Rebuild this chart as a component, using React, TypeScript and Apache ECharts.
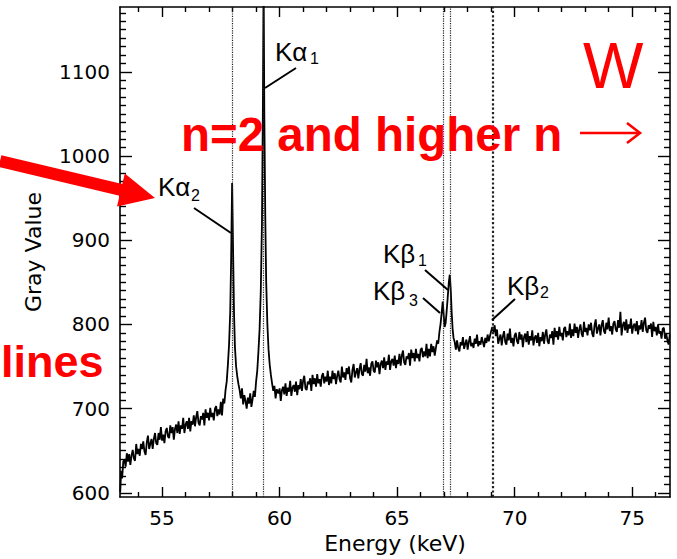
import React, { useEffect, useRef } from "react";
import * as echarts from "echarts";

// ---- Axis ticks ----
const X_MIN = 53.21;
const X_MAX = 76.61;
const Y_MIN = 595;
const Y_MAX = 1177;
const X_MAJOR = [55, 60, 65, 70, 75];
const X_MINOR = [54, 56, 57, 58, 59, 61, 62, 63, 64, 66, 67, 68, 69, 71, 72, 73, 74, 76];
const Y_MAJOR = [600, 700, 800, 900, 1000, 1100];
const Y_MINOR = [
  610, 620, 630, 640, 650, 660, 670, 680, 690,
  710, 720, 730, 740, 750, 760, 770, 780, 790,
  810, 820, 830, 840, 850, 860, 870, 880, 890,
  910, 920, 930, 940, 950, 960, 970, 980, 990,
  1010, 1020, 1030, 1040, 1050, 1060, 1070, 1080, 1090,
  1110, 1120, 1130, 1140, 1150, 1160, 1170,
];

// ---- Reference line energies (keV): Kα2, Kα1, Kβ3, Kβ1, Kβ2 ----
const LINE_ENERGIES = [57.98, 59.318, 66.95, 67.244, 69.07];

// ---- Spectrum segments [energy keV, gray value] ----
const lowEnergySlope = [
  [53.22, 601], [53.26, 626], [53.3, 617], [53.35, 637],
  [53.4, 639], [53.45, 631], [53.5, 647], [53.55, 637], [53.6, 646], [53.65, 633],
  [53.7, 644], [53.75, 651], [53.8, 641], [53.85, 638], [53.9, 658], [53.95, 646],
  [54.0, 652], [54.05, 644], [54.1, 658], [54.15, 652], [54.2, 661], [54.25, 649],
  [54.3, 645], [54.35, 660], [54.4, 668], [54.45, 652], [54.5, 658], [54.55, 664],
  [54.6, 652], [54.65, 664], [54.7, 671], [54.75, 659], [54.8, 657], [54.85, 671],
  [54.9, 663], [54.95, 678], [55.0, 662], [55.05, 669], [55.1, 659], [55.15, 673],
  [55.2, 677], [55.25, 667], [55.3, 665], [55.35, 680], [55.4, 671], [55.45, 678],
  [55.5, 663], [55.55, 676], [55.6, 681], [55.65, 671], [55.7, 685], [55.75, 670],
  [55.8, 680], [55.85, 676], [55.9, 689], [55.95, 671], [56.0, 681], [56.05, 685],
  [56.1, 676], [56.15, 689], [56.2, 673], [56.25, 685], [56.3, 681], [56.35, 692],
  [56.4, 679], [56.45, 690], [56.5, 697], [56.55, 683], [56.6, 680], [56.65, 691],
  [56.7, 687], [56.75, 695], [56.8, 680], [56.85, 699], [56.9, 689], [56.95, 695],
  [57.0, 686], [57.05, 701], [57.1, 690], [57.15, 695], [57.2, 686], [57.25, 700],
  [57.3, 703], [57.35, 691], [57.4, 699], [57.45, 693], [57.5, 708], [57.55, 692],
  [57.6, 712],
];

const kAlphaRegion = [
  [57.65, 706], [57.7, 722], [57.75, 732], [57.8, 752], [57.85, 776], [57.9, 815],
  [57.94, 880], [57.98, 968], [58.02, 890], [58.06, 815], [58.1, 773], [58.15, 750],
  [58.2, 738], [58.25, 729], [58.3, 722], [58.35, 712], [58.4, 724], [58.45, 705],
  [58.5, 716], [58.55, 709], [58.6, 700], [58.65, 713], [58.7, 706], [58.75, 718],
  [58.8, 702], [58.85, 711], [58.9, 721], [58.95, 714], [59.0, 732], [59.05, 745],
  [59.1, 768], [59.15, 795], [59.2, 840], [59.25, 920], [59.29, 1060], [59.32, 1210],
  [59.35, 1050], [59.39, 930], [59.43, 850], [59.48, 800], [59.53, 770], [59.58, 752],
  [59.63, 740], [59.68, 730], [59.73, 721], [59.78, 727], [59.83, 712], [59.88, 723],
];

const midPlateau = [
  [59.95, 718], [60.0, 724], [60.05, 709], [60.1, 722], [60.15, 726], [60.2, 717],
  [60.25, 730], [60.3, 715], [60.35, 725], [60.4, 720], [60.45, 733], [60.5, 715],
  [60.55, 725], [60.6, 728], [60.65, 720], [60.7, 732], [60.75, 716], [60.8, 728],
  [60.85, 723], [60.9, 735], [60.95, 721], [61.0, 733], [61.05, 739], [61.1, 724],
  [61.15, 722], [61.2, 732], [61.25, 729], [61.3, 736], [61.35, 721], [61.4, 740],
  [61.45, 729], [61.5, 736], [61.55, 726], [61.6, 741], [61.65, 730], [61.7, 735],
  [61.75, 726], [61.8, 739], [61.85, 742], [61.9, 730], [61.95, 738], [62.0, 732],
  [62.05, 745], [62.1, 728], [62.15, 738], [62.2, 730], [62.25, 745], [62.3, 735],
  [62.35, 742], [62.4, 729], [62.45, 739], [62.5, 745], [62.55, 735], [62.6, 731],
  [62.65, 750], [62.7, 737], [62.75, 743], [62.8, 734], [62.85, 748], [62.9, 741],
  [62.95, 750], [63.0, 736], [63.05, 731], [63.1, 746], [63.15, 753], [63.2, 737],
  [63.25, 743], [63.3, 748], [63.35, 736], [63.4, 747], [63.45, 754], [63.5, 741],
  [63.55, 739], [63.6, 752], [63.65, 744], [63.7, 759], [63.75, 742], [63.8, 749],
  [63.85, 739], [63.9, 753], [63.95, 756], [64.0, 745], [64.05, 743], [64.1, 757],
  [64.15, 749], [64.2, 755], [64.25, 741], [64.3, 753], [64.35, 757], [64.4, 748],
  [64.45, 761], [64.5, 746], [64.55, 756], [64.6, 752], [64.65, 764], [64.7, 746],
  [64.75, 756], [64.8, 759], [64.85, 751], [64.9, 763], [64.95, 748], [65.0, 758],
  [65.05, 753], [65.1, 765], [65.15, 751], [65.2, 763], [65.25, 769], [65.3, 755],
  [65.35, 752], [65.4, 762], [65.45, 759], [65.5, 766], [65.55, 751], [65.6, 770],
  [65.65, 760], [65.7, 766], [65.75, 756], [65.8, 771], [65.85, 760], [65.9, 765],
  [65.95, 756], [66.0, 770], [66.05, 772], [66.1, 761], [66.15, 768], [66.2, 762],
  [66.25, 777], [66.3, 760], [66.35, 771], [66.4, 762], [66.45, 777], [66.5, 767],
  [66.55, 774], [66.6, 763], [66.65, 772],
];

const kBetaRegion = [
  [66.7, 781], [66.75, 777], [66.8, 791], [66.85, 801], [66.9, 815], [66.94, 827],
  [66.98, 812], [67.02, 797], [67.06, 801], [67.1, 813], [67.15, 831], [67.2, 850],
  [67.24, 859], [67.28, 842], [67.32, 815], [67.36, 795], [67.4, 784], [67.45, 779],
  [67.5, 770], [67.55, 781], [67.6, 772], [67.65, 768], [67.7, 779], [67.75, 775],
  [67.8, 785], [67.85, 771], [67.9, 777], [67.95, 782], [68.0, 770], [68.05, 779],
  [68.1, 786], [68.15, 774], [68.2, 778], [68.25, 772], [68.3, 783], [68.35, 777],
  [68.4, 788], [68.45, 774], [68.5, 780], [68.55, 776], [68.6, 785], [68.65, 779],
  [68.7, 773], [68.75, 784], [68.8, 778], [68.85, 788], [68.9, 780], [68.95, 786],
  [69.0, 792], [69.05, 797], [69.1, 791], [69.15, 799], [69.2, 786],
];

const highPlateau = [
  [69.25, 794], [69.3, 777], [69.35, 783], [69.4, 788], [69.45, 775], [69.5, 786],
  [69.55, 792], [69.6, 779], [69.65, 776], [69.7, 789], [69.75, 781], [69.8, 795],
  [69.85, 778], [69.9, 784], [69.95, 774], [70.0, 787], [70.05, 790], [70.1, 780],
  [70.15, 777], [70.2, 791], [70.25, 782], [70.3, 788], [70.35, 773], [70.4, 785],
  [70.45, 789], [70.5, 779], [70.55, 792], [70.6, 776], [70.65, 786], [70.7, 781],
  [70.75, 793], [70.8, 775], [70.85, 784], [70.9, 787], [70.95, 778], [71.0, 790],
  [71.05, 774], [71.1, 785], [71.15, 780], [71.2, 791], [71.25, 777], [71.3, 788],
  [71.35, 794], [71.4, 780], [71.45, 777], [71.5, 788], [71.55, 784], [71.6, 792],
  [71.65, 776], [71.7, 796], [71.75, 785], [71.8, 792], [71.85, 782], [71.9, 797],
  [71.95, 786], [72.0, 790], [72.05, 781], [72.1, 795], [72.15, 797], [72.2, 785],
  [72.25, 792], [72.3, 787], [72.35, 801], [72.4, 784], [72.45, 794], [72.5, 786],
  [72.55, 801], [72.6, 790], [72.65, 797], [72.7, 784], [72.75, 794], [72.8, 800],
  [72.85, 789], [72.9, 785], [72.95, 803], [73.0, 791], [73.05, 796], [73.1, 787],
  [73.15, 800], [73.2, 793], [73.25, 802], [73.3, 789], [73.35, 785], [73.4, 799],
  [73.45, 806], [73.5, 789], [73.55, 795], [73.6, 800], [73.65, 787], [73.7, 799],
  [73.75, 805], [73.8, 792], [73.85, 789], [73.9, 802], [73.95, 794], [74.0, 808],
  [74.05, 792], [74.1, 798], [74.15, 788], [74.2, 801], [74.25, 804], [74.3, 794],
  [74.35, 791], [74.4, 805], [74.45, 796], [74.5, 815], [74.55, 787], [74.6, 799],
  [74.65, 803], [74.7, 793], [74.75, 806], [74.8, 790], [74.85, 800], [74.9, 795],
  [74.95, 807], [75.0, 789], [75.05, 798], [75.1, 801], [75.15, 792], [75.2, 804],
  [75.25, 788], [75.3, 799], [75.35, 794], [75.4, 805], [75.45, 791], [75.5, 802],
  [75.55, 808], [75.6, 793], [75.65, 790], [75.7, 799], [75.75, 795], [75.8, 801],
  [75.85, 785], [75.9, 803], [75.95, 792], [76.0, 797], [76.05, 787], [76.1, 800],
  [76.15, 789], [76.2, 792], [76.25, 783], [76.3, 795], [76.35, 796], [76.4, 783],
  [76.45, 789], [76.5, 781], [76.55, 776], [76.6, 788],
];

const SPECTRUM = [
  ...lowEnergySlope,
  ...kAlphaRegion,
  ...midPlateau,
  ...kBetaRegion,
  ...highPlateau,
];

const RED = "#ff0000";
const LABEL_FONT = "Liberation Sans, Arial, sans-serif";
const AXIS_FONT = "DejaVu Sans, sans-serif";

function kLabel(
  letter: string,
  sub: string,
  x: number,
  y: number,
  subX: number,
  subY: number,
  line: [number, number, number, number]
) {
  return [
    {
      type: "text",
      x,
      y,
      z: 100,
      style: {
        text: "K" + letter,
        fill: "#000",
        fontSize: 26,
        fontFamily: LABEL_FONT,
        align: "left",
        verticalAlign: "middle",
      },
    },
    {
      type: "text",
      x: subX,
      y: subY,
      z: 100,
      style: {
        text: sub,
        fill: "#000",
        fontSize: 16,
        fontFamily: LABEL_FONT,
        align: "left",
        verticalAlign: "middle",
      },
    },
    {
      type: "line",
      z: 100,
      shape: { x1: line[0], y1: line[1], x2: line[2], y2: line[3] },
      style: { stroke: "#000", lineWidth: 2 },
    },
  ];
}

export default function App() {
  const ref = useRef<HTMLDivElement>(null);

  useEffect(() => {
    if (!ref.current) return;
    const chart = echarts.init(ref.current, null, { renderer: "svg" });

    const baseX = {
      type: "value",
      min: X_MIN,
      max: X_MAX,
      splitLine: { show: false },
    };
    const baseY = {
      type: "value",
      min: Y_MIN,
      max: Y_MAX,
      splitLine: { show: false },
    };
    const frameLine = { show: true, onZero: false, lineStyle: { color: "#000", width: 1.6 } };
    const noLine = { show: false, onZero: false };
    const tickStyle = { color: "#000", width: 1.4 };
    const plain = (v: number) => String(v);

    const option: any = {
      animation: false,
      backgroundColor: "#fff",
      grid: {
        left: 120,
        right: 7,
        top: 7,
        bottom: 62,
        outerBoundsMode: "none",
        containLabel: false,
      },
      xAxis: [
        {
          ...baseX,
          position: "bottom",
          name: "Energy (keV)",
          nameLocation: "middle",
          nameGap: 35,
          nameTextStyle: { fontFamily: AXIS_FONT, fontSize: 22, color: "#000" },
          axisLine: frameLine,
          axisTick: { show: true, inside: true, length: 10, customValues: X_MAJOR, lineStyle: tickStyle },
          axisLabel: {
            show: true,
            customValues: X_MAJOR,
            formatter: plain,
            margin: 11,
            fontFamily: AXIS_FONT,
            fontSize: 20,
            color: "#000",
          },
        },
        {
          ...baseX,
          position: "bottom",
          axisLine: noLine,
          axisTick: { show: true, inside: true, length: 5, customValues: X_MINOR, lineStyle: tickStyle },
          axisLabel: { show: false },
        },
        {
          ...baseX,
          position: "top",
          axisLine: frameLine,
          axisTick: { show: true, inside: true, length: 10, customValues: X_MAJOR, lineStyle: tickStyle },
          axisLabel: { show: false },
        },
        {
          ...baseX,
          position: "top",
          axisLine: noLine,
          axisTick: { show: true, inside: true, length: 5, customValues: X_MINOR, lineStyle: tickStyle },
          axisLabel: { show: false },
        },
      ],
      yAxis: [
        {
          ...baseY,
          position: "left",
          name: "Gray Value",
          nameLocation: "middle",
          nameGap: 76,
          nameTextStyle: { fontFamily: AXIS_FONT, fontSize: 22, color: "#000" },
          axisLine: frameLine,
          axisTick: { show: true, inside: true, length: 12, customValues: Y_MAJOR, lineStyle: tickStyle },
          axisLabel: {
            show: true,
            customValues: Y_MAJOR,
            formatter: plain,
            margin: 10,
            fontFamily: AXIS_FONT,
            fontSize: 20,
            color: "#000",
          },
        },
        {
          ...baseY,
          position: "left",
          axisLine: noLine,
          axisTick: { show: true, inside: true, length: 6, customValues: Y_MINOR, lineStyle: tickStyle },
          axisLabel: { show: false },
        },
        {
          ...baseY,
          position: "right",
          axisLine: frameLine,
          axisTick: { show: true, inside: true, length: 12, customValues: Y_MAJOR, lineStyle: tickStyle },
          axisLabel: { show: false },
        },
        {
          ...baseY,
          position: "right",
          axisLine: noLine,
          axisTick: { show: true, inside: true, length: 6, customValues: Y_MINOR, lineStyle: tickStyle },
          axisLabel: { show: false },
        },
      ],
      series: [
        {
          type: "line",
          xAxisIndex: 0,
          yAxisIndex: 0,
          data: SPECTRUM,
          showSymbol: false,
          symbol: "none",
          clip: true,
          lineStyle: { color: "#000", width: 1.8 },
          markLine: {
            silent: true,
            symbol: ["none", "none"],
            label: { show: false },
            lineStyle: { color: "#222", type: "dotted", width: 1.2 },
            data: LINE_ENERGIES.map((e, i) => ({
              xAxis: e,
              lineStyle: i === 4 ? { width: 2.2 } : {},
            })),
          },
        },
      ],
      graphic: [
        ...kLabel("α", "1", 275, 52, 310, 58, [296, 68, 265, 88]),
        ...kLabel("α", "2", 158, 187, 191, 195, [194, 208, 231, 233]),
        ...kLabel("β", "1", 383, 254, 418, 260, [425, 270, 448, 290]),
        ...kLabel("β", "3", 373, 291, 409, 300, [423, 298, 440, 313]),
        ...kLabel("β", "2", 507, 286, 540, 292, [515, 299, 492, 320]),
        {
          type: "polygon",
          z: 110,
          shape: {
            points: [
              [1.4, 155.2],
              [122.3, 184.1],
              [124.8, 173.4],
              [155, 198],
              [117, 206.4],
              [119.5, 195.7],
              [-1.4, 166.8],
            ],
          },
          style: { fill: RED },
        },
        {
          type: "text",
          x: 181,
          y: 134,
          z: 110,
          style: {
            text: "n=2 and higher n",
            fill: RED,
            fontSize: 47.5,
            fontWeight: "bold",
            fontFamily: LABEL_FONT,
            align: "left",
            verticalAlign: "middle",
          },
        },
        {
          type: "polyline",
          z: 110,
          shape: { points: [[580, 133], [639, 133]] },
          style: { stroke: RED, lineWidth: 2.6, fill: "none" },
        },
        {
          type: "polyline",
          z: 110,
          shape: { points: [[627, 123], [640, 133], [627, 143]] },
          style: { stroke: RED, lineWidth: 2.6, fill: "none" },
        },
        {
          type: "text",
          x: 583,
          y: 66,
          z: 110,
          style: {
            text: "W",
            fill: RED,
            fontSize: 64,
            fontFamily: LABEL_FONT,
            align: "left",
            verticalAlign: "middle",
          },
        },
        {
          type: "text",
          x: 1,
          y: 361,
          z: 110,
          style: {
            text: "lines",
            fill: RED,
            fontSize: 45,
            fontWeight: "bold",
            fontFamily: LABEL_FONT,
            align: "left",
            verticalAlign: "middle",
          },
        },
      ],
    };

    chart.setOption(option);
    return () => chart.dispose();
  }, []);

  return (
    <div
      ref={ref}
      style={{ position: "fixed", left: 0, top: 0, width: 677, height: 559, background: "#fff" }}
    />
  );
}
